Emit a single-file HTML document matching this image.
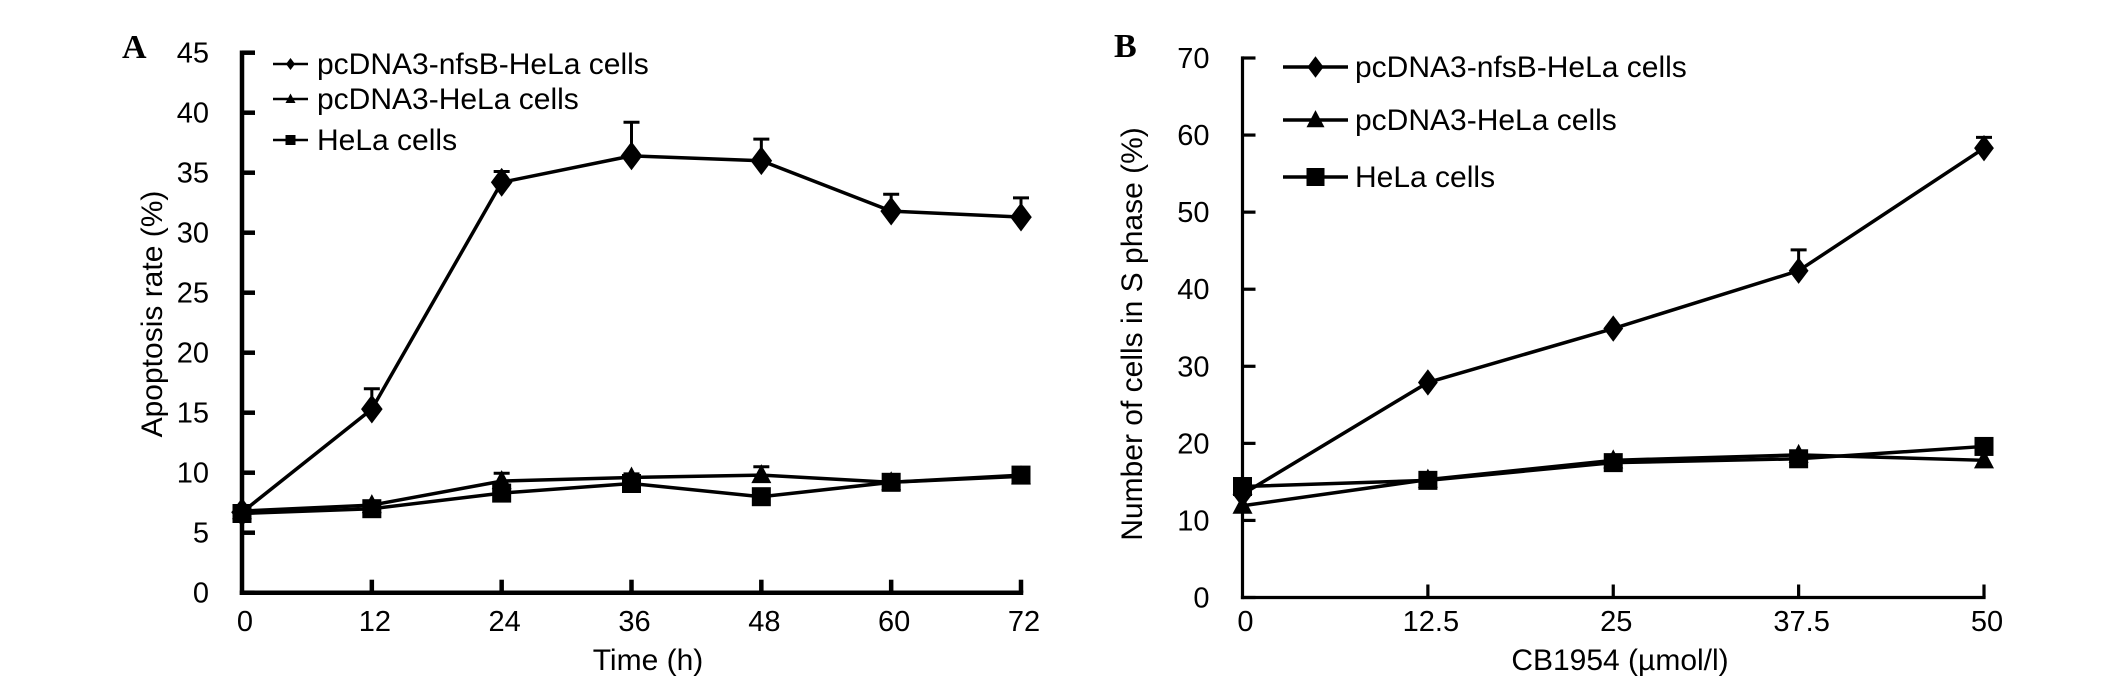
<!DOCTYPE html>
<html><head><meta charset="utf-8"><style>
html,body{margin:0;padding:0;background:#fff;}
svg{display:block;font-family:"Liberation Sans",Arial,sans-serif;}
</style></head><body>
<svg id="fig" width="2126" height="687" viewBox="0 0 2126 687" xmlns="http://www.w3.org/2000/svg">
<rect width="2126" height="687" fill="#fff"/>
<g id="panelA"></g>
<g id="panelB"></g>
</svg>
<script>
// ---- Panel A data ----
const aCategories = [0, 12, 24, 36, 48, 60, 72];
const aYTicks = [0, 5, 10, 15, 20, 25, 30, 35, 40, 45];
const aNfsB = [6.7, 15.3, 34.2, 36.4, 36.0, 31.8, 31.3];
const aNfsBErr = [0, 1.7, 0.9, 2.8, 1.8, 1.4, 1.6];
const aPc = [6.8, 7.3, 9.3, 9.6, 9.8, 9.2, 9.7];
const aPcErr = [0, 0.3, 0.65, 0.3, 0.7, 0.2, 0.2];
const aHela = [6.6, 7.0, 8.3, 9.1, 8.0, 9.2, 9.8];
const aHelaErr = [0, 0, 0, 0, 0, 0, 0];
// ---- Panel B data ----
const bCategories = [0, 12.5, 25, 37.5, 50];
const bXLabels = ["0", "12.5", "25", "37.5", "50"];
const bYTicks = [0, 10, 20, 30, 40, 50, 60, 70];
const bNfsB = [13.4, 27.9, 34.9, 42.4, 58.3];
const bNfsBErr = [0, 0, 0, 2.7, 1.4];
const bPc = [11.9, 15.3, 17.8, 18.5, 17.8];
const bPcErr = [0, 0, 0.3, 0.4, 0];
const bHela = [14.4, 15.2, 17.5, 18.0, 19.6];
const bHelaErr = [0, 0, 0, 0, 0];

const NS = "http://www.w3.org/2000/svg";
function mk(parent, tag, attrs, text) {
  const e = document.createElementNS(NS, tag);
  for (const k in attrs) e.setAttribute(k, attrs[k]);
  if (text !== undefined) e.textContent = text;
  parent.appendChild(e);
  return e;
}
function marker(g, kind, cx, cy, s) {
  let e;
  if (kind === "diamond") {
    e = mk(g, "polygon", {points: `${cx},${cy-s*0.6} ${cx+s*0.45},${cy} ${cx},${cy+s*0.6} ${cx-s*0.45},${cy}`, fill: "#000"});
  } else if (kind === "triangle") {
    e = mk(g, "polygon", {points: `${cx},${cy-s*0.55} ${cx+s*0.5},${cy+s*0.4} ${cx-s*0.5},${cy+s*0.4}`, fill: "#000"});
  } else {
    e = mk(g, "rect", {x: cx-s/2, y: cy-s/2, width: s, height: s, fill: "#000"});
  }
  return e;
}

function drawPanel(cfg) {
  const g = document.getElementById(cfg.id);
  const sx = v => cfg.x0 + (v - cfg.xmin) / (cfg.xmax - cfg.xmin) * (cfg.x1 - cfg.x0);
  const sy = v => cfg.y0 - (v - cfg.ymin) / (cfg.ymax - cfg.ymin) * (cfg.y0 - cfg.y1);
  const L = mk(g, "text", {x: cfg.letterX, y: cfg.letterY, "font-family": "Liberation Serif, serif", "font-weight": "bold", "font-size": 34}, cfg.letter);
  
  
  const ya = mk(g, "line", {x1: cfg.x0, y1: cfg.y1, x2: cfg.x0, y2: cfg.y0, stroke: "#000", "stroke-width": cfg.axisW, "stroke-linecap": "square"});
  
  
  const xa = mk(g, "line", {x1: cfg.x0, y1: cfg.y0, x2: cfg.x1, y2: cfg.y0, stroke: "#000", "stroke-width": cfg.axisW, "stroke-linecap": "square"});
  
  
  cfg.yTicks.forEach(v => {
    const y = sy(v);
    const t = mk(g, "line", {x1: cfg.x0, y1: y, x2: cfg.x0 + 13, y2: y, stroke: "#000", "stroke-width": cfg.axisW});
    
    
    const tl = mk(g, "text", {x: cfg.x0 - 33, y: y + 10, "text-anchor": "end", "font-size": 29}, String(v));
    
    
  });
  cfg.cats.forEach((v, i) => {
    const x = sx(v);
    if (i > 0) {
      const t = mk(g, "line", {x1: x, y1: cfg.y0, x2: x, y2: cfg.y0 - 13, stroke: "#000", "stroke-width": cfg.axisW});
      
      
    }
    const tl = mk(g, "text", {x: x + 3, y: 631, "text-anchor": "middle", "font-size": 29}, cfg.xLabels[i]);
    
    
  });
  const xt = mk(g, "text", {x: cfg.xTitleX, y: 670, "text-anchor": "middle", "font-size": cfg.titleSize}, cfg.xTitle);
  
  
  const yt = mk(g, "text", {x: 0, y: 0, "text-anchor": "middle", "font-size": cfg.titleSize, transform: `translate(${cfg.yTitleX},${cfg.yTitleY}) rotate(-90)`}, cfg.yTitle);
  
  
  cfg.series.forEach(s => {
    const sg = mk(g, "g", {});
    
    
    const pts = s.vals.map((v, i) => `${sx(cfg.cats[i])},${sy(v)}`).join(" ");
    const pl = mk(sg, "polyline", {points: pts, fill: "none", stroke: "#000", "stroke-width": cfg.lineW, "stroke-linejoin": "round"});
    
    
    s.vals.forEach((v, i) => {
      const x = sx(cfg.cats[i]);
      if (s.err[i] > 0) {
        const yTop = sy(v + s.err[i]);
        const eb = mk(sg, "path", {d: `M${x},${sy(v)} L${x},${yTop} M${x-8},${yTop} L${x+8},${yTop}`, stroke: "#000", "stroke-width": cfg.errW, fill: "none"});
        
        
      }
      const m = marker(sg, s.kind, x, sy(v), s.size);
      
      
    });
  });
  cfg.legend.forEach((l, i) => {
    const lg = mk(g, "g", {});
    
    
    const cy = l.y - 10;
    mk(lg, "line", {x1: cfg.legX1, y1: cy, x2: cfg.legX2, y2: cy, stroke: "#000", "stroke-width": cfg.legLineW});
    marker(lg, cfg.series[i].kind, (cfg.legX1 + cfg.legX2) / 2, cy, cfg.legMark);
    mk(lg, "text", {x: cfg.legTextX, y: l.y, "font-size": 30}, l.label);
  });
}

drawPanel({
  id: "panelA", letter: "A", letterX: 122, letterY: 58,
  x0: 242, x1: 1021, y0: 592.7, y1: 52.7, xmin: 0, xmax: 72, ymin: 0, ymax: 45,
  cats: aCategories, xLabels: aCategories.map(String), yTicks: aYTicks,
  axisW: 4.5, lineW: 3.5, errW: 3,
  xTitle: "Time (h)", xTitleX: 648, yTitle: "Apoptosis rate (%)", yTitleX: 162, yTitleY: 314, titleSize: 30,
  series: [
    {key: "nfsb-hela", kind: "diamond", size: 24, vals: aNfsB, err: aNfsBErr},
    {key: "pcdna3-hela", kind: "triangle", size: 20, vals: aPc, err: aPcErr},
    {key: "hela", kind: "square", size: 19, vals: aHela, err: aHelaErr}
  ],
  legend: [{label: "pcDNA3-nfsB-HeLa cells", y: 74}, {label: "pcDNA3-HeLa cells", y: 109}, {label: "HeLa cells", y: 150}],
  legX1: 273, legX2: 308, legLineW: 2.5, legMark: 10, legTextX: 317
});
drawPanel({
  id: "panelB", letter: "B", letterX: 1114, letterY: 57,
  x0: 1242.5, x1: 1984, y0: 597.5, y1: 58, xmin: 0, xmax: 50, ymin: 0, ymax: 70,
  cats: bCategories, xLabels: bXLabels, yTicks: bYTicks,
  axisW: 3.2, lineW: 3.5, errW: 3,
  xTitle: "CB1954 (µmol/l)", xTitleX: 1620, yTitle: "Number of cells in S phase (%)", yTitleX: 1142, yTitleY: 334, titleSize: 30,
  series: [
    {key: "nfsb-hela", kind: "diamond", size: 22, vals: bNfsB, err: bNfsBErr},
    {key: "pcdna3-hela", kind: "triangle", size: 20, vals: bPc, err: bPcErr},
    {key: "hela", kind: "square", size: 19, vals: bHela, err: bHelaErr}
  ],
  legend: [{label: "pcDNA3-nfsB-HeLa cells", y: 77}, {label: "pcDNA3-HeLa cells", y: 130}, {label: "HeLa cells", y: 187}],
  legX1: 1283, legX2: 1348, legLineW: 3.5, legMark: 18, legTextX: 1355
});
</script>
</body></html>
